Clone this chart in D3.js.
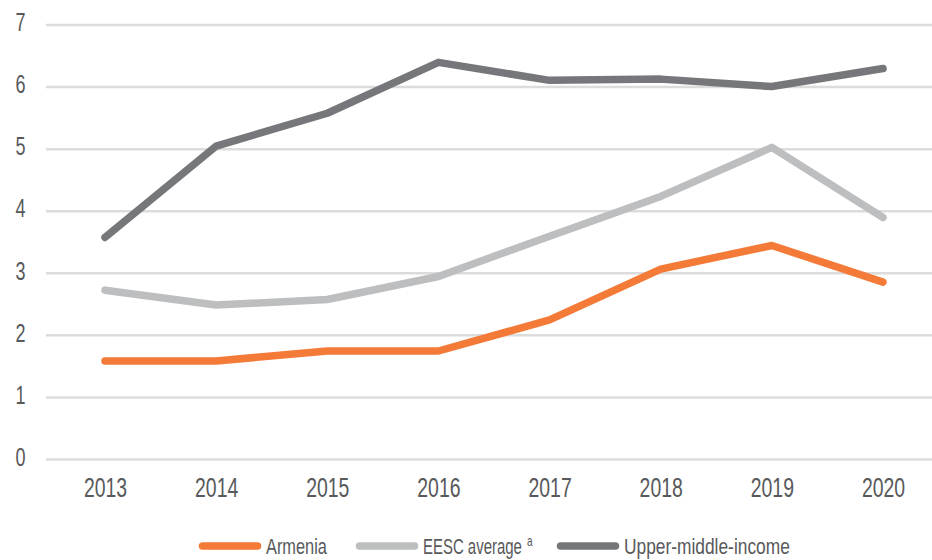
<!DOCTYPE html>
<html>
<head>
<meta charset="utf-8">
<script src="https://cdn.jsdelivr.net/npm/d3@7"></script>
<style>
  body { margin: 0; background: #fff; }
  svg text { font-family: "Liberation Sans", Arial, sans-serif; fill: #58595b; }
</style>
</head>
<body>
<svg id="chart" width="932" height="560"></svg>
<script>
// Chart data
const years = ["2013", "2014", "2015", "2016", "2017", "2018", "2019", "2020"];
const armenia = [1.58, 1.58, 1.74, 1.74, 2.24, 3.06, 3.44, 2.85];
const eescAverage = [2.72, 2.48, 2.57, 2.94, 3.59, 4.23, 5.02, 3.89];
const upperMiddle = [3.57, 5.04, 5.57, 6.39, 6.10, 6.12, 6.00, 6.29];
const yTicks = [0, 1, 2, 3, 4, 5, 6, 7];

const series = [
  { name: "Armenia", values: armenia, color: "#f47a38" },
  { name: "EESC average", sup: "a", values: eescAverage, color: "#bdbebf" },
  { name: "Upper-middle-income", values: upperMiddle, color: "#76777a" }
];

const svg = d3.select("#chart");
const plot = { left: 46, right: 932, top: 24.5, bottom: 459 };
const narrow = 0.72; // squeeze to mimic the condensed face

// Scales
const x = d3.scalePoint().domain(years).range([105, 883]);
const y = d3.scaleLinear().domain([0, 7]).range([plot.bottom, plot.top]);

// Gridlines + y labels
const yAxis = svg.append("g")
  .attr("transform", `translate(${plot.left},0)`)
  .call(d3.axisLeft(y).tickValues(yTicks).tickSize(-(plot.right - plot.left)).tickFormat(d3.format("d")));
yAxis.select(".domain").remove();
yAxis.selectAll(".tick line").attr("stroke", "#dcdcdc").attr("stroke-width", 2.5);
yAxis.selectAll(".tick text")
  .attr("font-size", 25)
  .attr("text-anchor", "middle")
  .attr("x", -25.5 / narrow)
  .attr("y", -2.5)
  .attr("dy", "0.35em")
  .attr("transform", `scale(${narrow},1)`);

// x labels
const xAxis = svg.append("g")
  .attr("transform", `translate(0,${plot.bottom})`)
  .call(d3.axisBottom(x).tickSize(0));
xAxis.select(".domain").remove();
xAxis.selectAll(".tick text")
  .attr("font-size", 27)
  .attr("y", 38.5)
  .attr("dy", 0)
  .attr("transform", `scale(${narrow},1)`);

// Lines
const line = d3.line()
  .x((d, i) => x(years[i]))
  .y(d => y(d));

svg.selectAll(".series")
  .data(series)
  .enter().append("path")
  .attr("class", "series")
  .attr("fill", "none")
  .attr("stroke", d => d.color)
  .attr("stroke-width", 7.5)
  .attr("stroke-linecap", "round")
  .attr("stroke-linejoin", "round")
  .attr("d", d => line(d.values));

// Legend
const legendX = [199, 356, 557];
const legendTextWidth = [61, 99, 166];
const legend = svg.append("g");
series.forEach((s, i) => {
  const g = legend.append("g").attr("transform", `translate(${legendX[i]},546)`);
  g.append("line")
    .attr("x1", 3.5).attr("x2", 58.5)
    .attr("stroke", s.color)
    .attr("stroke-width", 7.5)
    .attr("stroke-linecap", "round");
  const t = g.append("text")
    .attr("font-size", 22)
    .text(s.name);
  // squeeze the label to the width of the condensed original
  const k = legendTextWidth[i] / t.node().getComputedTextLength();
  t.attr("transform", `translate(67,7.5) scale(${k},1)`);
  if (s.sup) {
    g.append("text")
      .attr("transform", `translate(${67 + legendTextWidth[i] + 5},0) scale(${narrow},1)`)
      .attr("font-size", 14)
      .text(s.sup);
  }
});
</script>
</body>
</html>
